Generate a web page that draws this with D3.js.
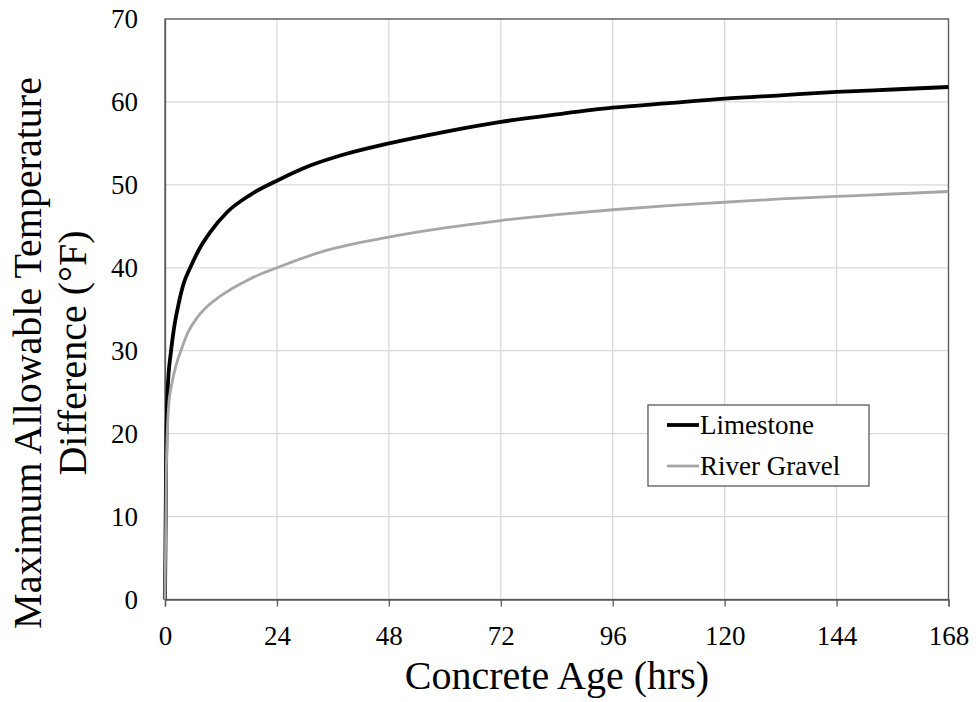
<!DOCTYPE html>
<html>
<head>
<meta charset="utf-8">
<script src="https://cdn.jsdelivr.net/npm/d3@7"></script>
<style>
body{margin:0;background:#fff;}
svg{display:block;}
svg text{font-family:"Liberation Serif","Times New Roman",Times,"DejaVu Serif",serif;fill:#000;}
</style>
</head>
<body>
<svg id="chart" width="976" height="702"></svg>
<script>
const ageLimestone = [0,0.25,0.56,1.3,1.9,2.9,4,5.4,7.6,9.7,13.3,18.3,24,31,38,48,60,72,84,96,108,120,132,144,156,168];
const limestone    = [0,17,25.2,30,32.6,35.6,38.1,40,42.5,44.3,46.7,48.8,50.5,52.3,53.6,55,56.4,57.6,58.5,59.3,59.85,60.4,60.8,61.2,61.5,61.8];
const ageGravel    = [0,0.3,0.8,1.5,2.4,3.4,5,6.9,9,11.9,18,24,34.6,48,60,72,84,96,108,120,132,144,156,168];
const riverGravel  = [0,16,23.5,26.1,28.3,30,32.3,34,35.3,36.6,38.6,40,42.1,43.7,44.8,45.7,46.4,47,47.5,47.9,48.3,48.6,48.9,49.2];
const xTicks = [0,24,48,72,96,120,144,168];
const yTicks = [0,10,20,30,40,50,60,70];
const seriesNames = ["Limestone","River Gravel"];
const seriesColors = ["#000000","#a6a6a6"];

const svg = d3.select("#chart");
const L=165, R=948.5, T=19, B=599.5;
const x = d3.scaleLinear().domain([0,168]).range([L,R]);
const y = d3.scaleLinear().domain([0,70]).range([B,T]);
const frameColor = "#595959";

// gridlines
svg.append("g").selectAll("line").data(yTicks.slice(1)).join("line")
  .attr("x1",L).attr("x2",R).attr("y1",d=>y(d)).attr("y2",d=>y(d))
  .attr("stroke","#d9d9d9").attr("stroke-width",1.3);
svg.append("g").selectAll("line").data(xTicks.slice(1)).join("line")
  .attr("y1",T).attr("y2",B).attr("x1",d=>x(d)).attr("x2",d=>x(d))
  .attr("stroke","#d9d9d9").attr("stroke-width",1.3);

// frame
svg.append("rect").attr("x",L).attr("y",T).attr("width",R-L).attr("height",B-T)
  .attr("fill","none").attr("stroke",frameColor).attr("stroke-width",1.3);

// x axis
const xAxis = svg.append("g").attr("transform",`translate(0,${B})`)
  .call(d3.axisBottom(x).tickValues(xTicks).tickSize(7).tickPadding(19).tickFormat(d3.format("d")));
xAxis.attr("font-family",null);
xAxis.select(".domain").attr("stroke",frameColor).attr("stroke-width",1.3);
xAxis.selectAll(".tick line").attr("stroke",frameColor).attr("stroke-width",1.3);
xAxis.selectAll("text").attr("font-size",27).attr("fill","#000");

// y axis
const yAxis = svg.append("g").attr("transform",`translate(${L},0)`)
  .call(d3.axisLeft(y).tickValues(yTicks).tickSize(0).tickPadding(27).tickFormat(d3.format("d")));
yAxis.attr("font-family",null);
yAxis.select(".domain").attr("stroke",frameColor).attr("stroke-width",1.3);
yAxis.selectAll("text").attr("font-size",27).attr("fill","#000");

// lines
const lineL = d3.line().x((d,i)=>x(ageLimestone[i])).y(d=>y(d)).curve(d3.curveMonotoneX);
const lineG = d3.line().x((d,i)=>x(ageGravel[i])).y(d=>y(d)).curve(d3.curveMonotoneX);
svg.append("path").datum(limestone).attr("d",lineL).attr("fill","none")
  .attr("stroke",seriesColors[0]).attr("stroke-width",3.8).attr("stroke-linejoin","round");
svg.append("path").datum(riverGravel).attr("d",lineG).attr("fill","none")
  .attr("stroke",seriesColors[1]).attr("stroke-width",2.8).attr("stroke-linejoin","round");

// axis titles
svg.append("text").attr("x",557).attr("y",689).attr("text-anchor","middle")
  .attr("font-size",40).text("Concrete Age (hrs)");
const yt = svg.append("text").attr("transform",`translate(0,353) rotate(-90)`)
  .attr("text-anchor","middle").attr("font-size",40);
yt.append("tspan").attr("x",0).attr("y",41).text("Maximum Allowable Temperature");
yt.append("tspan").attr("x",0).attr("y",86).text("Difference (°F)");

// legend
const lg = svg.append("g");
lg.append("rect").attr("x",648).attr("y",405).attr("width",221).attr("height",81)
  .attr("fill","#fff").attr("stroke",frameColor).attr("stroke-width",1.3);
seriesNames.forEach((n,i)=>{
  const yy = 425 + i*41;
  lg.append("line").attr("x1",667).attr("x2",699).attr("y1",yy).attr("y2",yy)
    .attr("stroke",seriesColors[i]).attr("stroke-width",i===0?3.8:2.8);
  lg.append("text").attr("x",700).attr("y",yy+9).attr("font-size",27).text(n);
});
</script>
</body>
</html>
